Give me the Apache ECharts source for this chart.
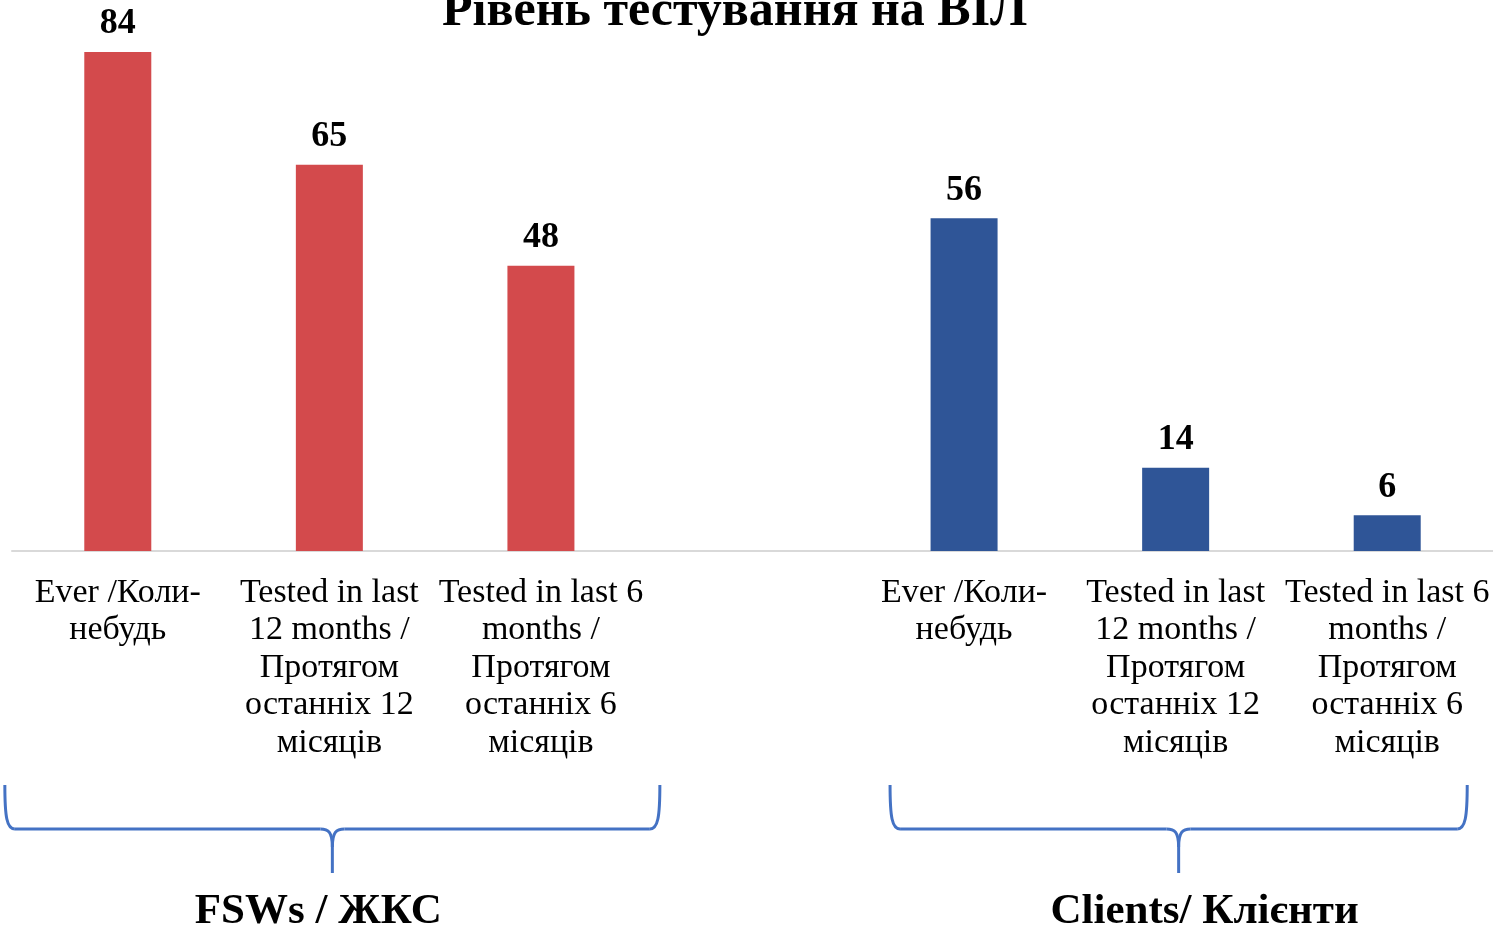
<!DOCTYPE html>
<html>
<head>
<meta charset="utf-8">
<title>Рівень тестування на ВІЛ</title>
<script src="https://cdn.jsdelivr.net/npm/echarts@6/dist/echarts.min.js"></script>
<style>
  html, body { margin: 0; padding: 0; background: #fff; }
  #main { width: 1493px; height: 932px; }
</style>
</head>
<body>
<div id="main"></div>
<script>
// categories (empty slot in the middle separates the two groups)
const categories = [
  'Ever /Коли-\nнебудь',
  'Tested in last\n12 months /\nПротягом\nостанніх 12\nмісяців',
  'Tested in last 6\nmonths /\nПротягом\nостанніх 6\nмісяців',
  '',
  'Ever /Коли-\nнебудь',
  'Tested in last\n12 months /\nПротягом\nостанніх 12\nмісяців',
  'Tested in last 6\nmonths /\nПротягом\nостанніх 6\nмісяців'
];
const fswValues = [84, 65, 48, null, null, null, null];
const clientValues = [null, null, null, null, 56, 14, 6];
const groupNames = ['FSWs / ЖКС', 'Clients/ Клієнти'];

const FONT = '"Liberation Serif", serif';

let chartDom = document.getElementById('main');
let myChart = echarts.init(chartDom);

let labelStyle = {
  show: true,
  position: 'top',
  distance: 10,
  fontFamily: FONT,
  fontWeight: 'bold',
  fontSize: 36,
  color: '#000'
};

let option = {
  animation: false,
  title: {
    text: 'Рівень тестування на ВІЛ',
    left: 437,
    top: -18,
    textStyle: { fontFamily: FONT, fontWeight: 'bold', fontSize: 50, color: '#000' }
  },
  grid: { left: 12, right: 0, top: 52, bottom: 381, containLabel: false },
  xAxis: {
    type: 'category',
    data: categories,
    axisLine: { lineStyle: { color: '#D9D9D9', width: 2 } },
    axisTick: { show: false },
    axisLabel: {
      interval: 0,
      margin: 23,
      fontFamily: FONT,
      fontSize: 34,
      lineHeight: 37.5,
      color: '#000'
    }
  },
  yAxis: {
    type: 'value',
    min: 0,
    max: 84,
    show: false
  },
  series: [
    {
      name: 'FSWs',
      type: 'bar',
      data: fswValues,
      barWidth: 67,
      barGap: '-100%',
      itemStyle: { color: '#D34A4C' },
      label: labelStyle
    },
    {
      name: 'Clients',
      type: 'bar',
      data: clientValues,
      barWidth: 67,
      itemStyle: { color: '#2F5597' },
      label: labelStyle
    }
  ]
};

myChart.setOption(option);

// curly braces under each group, centred from the axis positions
let braceStyle = { stroke: '#4472C4', lineWidth: 3, fill: null };

function brace(cx, half, top, mid, tip) {
  let parts = [];
  [-1, 1].forEach(s => {
    let e = cx + s * half;
    parts.push({
      type: 'bezierCurve',
      shape: { x1: e, y1: top, x2: e - s * 10, y2: mid, cpx1: e, cpy1: mid - 12, cpx2: e - s * 2, cpy2: mid },
      style: braceStyle
    });
    parts.push({
      type: 'line',
      shape: { x1: e - s * 10, y1: mid, x2: cx + s * 12, y2: mid },
      style: braceStyle
    });
    parts.push({
      type: 'bezierCurve',
      shape: { x1: cx + s * 12, y1: mid, x2: cx, y2: mid + 18, cpx1: cx + s * 4, cpy1: mid, cpx2: cx, cpy2: mid + 3 },
      style: braceStyle
    });
  });
  parts.push({
    type: 'line',
    shape: { x1: cx, y1: mid + 18, x2: cx, y2: tip },
    style: braceStyle
  });
  return parts;
}

let c0 = myChart.convertToPixel({ xAxisIndex: 0 }, 0);
let c1 = myChart.convertToPixel({ xAxisIndex: 0 }, 1);
let c5 = myChart.convertToPixel({ xAxisIndex: 0 }, 5);
let band = c1 - c0;
let braces = [
  { cx: c1 + 3, half: band * 1.548, textX: c1 - 11 },
  { cx: c5 + 3, half: band * 1.364, textX: c5 + 29 }
];

let graphics = [];
braces.forEach((b, i) => {
  graphics = graphics.concat(brace(b.cx, b.half, 785, 829, 873));
  graphics.push({
    type: 'text',
    x: b.textX,
    y: 912,
    style: {
      text: groupNames[i],
      fontFamily: FONT,
      fontWeight: 'bold',
      fontSize: 43,
      fill: '#000',
      textAlign: 'center',
      textVerticalAlign: 'middle'
    }
  });
});
myChart.setOption({ graphic: graphics });
</script>
</body>
</html>
